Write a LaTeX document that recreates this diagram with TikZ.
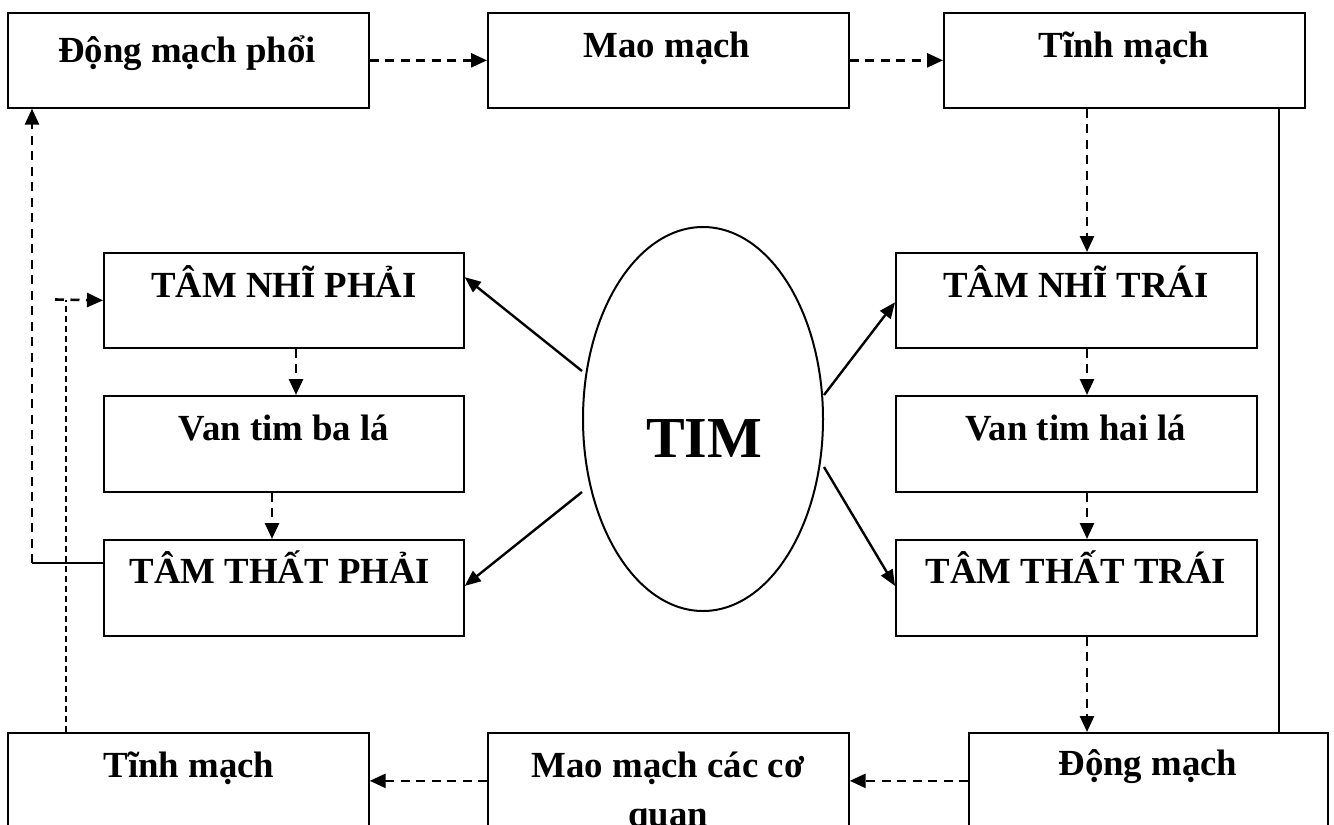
\documentclass[tikz,border=0pt]{standalone}
\usepackage{fontspec}
\setmainfont{Liberation Serif}
\usetikzlibrary{arrows.meta,shapes.geometric,calc}

\begin{document}
\begin{tikzpicture}[x=1pt,y=-1pt,
  box/.style={draw, line width=1.7pt, minimum width=361pt, minimum height=95pt,
              inner sep=0pt, anchor=north west},
  lbl/.style={font=\bfseries\fontsize{36.8}{42}\selectfont, anchor=base, inner sep=0pt},
  dasharrow/.style={line width=2.6pt, dash pattern=on 9pt off 6.5pt,
                    -{Triangle[length=16pt,width=14pt]}},
  solidarrow/.style={line width=2.4pt, -{Triangle[length=16pt,width=13pt]}},
  link/.style={line width=1.7pt},
  thinlink/.style={line width=1.5pt, dash pattern=on 6pt off 4pt},
]
\useasboundingbox (0,0) rectangle (1334,825);
\clip (0,0) rectangle (1334,825);
\fill[white] (0,0) rectangle (1334,825);

% top row
\node[box] (b1) at (7,12) {};
\node[box] (b2) at (487,12) {};
\node[box] (b3) at (943,12) {};
\node[lbl] (t1) at (187,62) {Động mạch phổi};
\node[lbl] (t2) at (667,57) {Mao mạch};
\node[lbl] (t3) at (1124,57) {Tĩnh mạch};

% left column (right heart)
\node[box, minimum width=360pt] (ln) at (103,252) {};
\node[box, minimum width=360pt, minimum height=96pt] (lv) at (103,395) {};
\node[box, minimum width=360pt, minimum height=96pt] (lt) at (103,539) {};
\node[lbl] (tln) at (284,297) {TÂM NHĨ PHẢI};
\node[lbl] (tlv) at (284,440) {Van tim ba lá};
\node[lbl] (tlt) at (280,583) {TÂM THẤT PHẢI};

% right column (left heart)
\node[box] (rn) at (895,252) {};
\node[box, minimum height=96pt] (rv) at (895,395) {};
\node[box, minimum height=96pt] (rt) at (895,539) {};
\node[lbl] (trn) at (1076,297) {TÂM NHĨ TRÁI};
\node[lbl] (trv) at (1076,440) {Van tim hai lá};
\node[lbl] (trt) at (1076,583) {TÂM THẤT TRÁI};

% heart
\node[draw, ellipse, line width=2pt, minimum width=240pt, minimum height=384pt,
      inner sep=0pt] (tim) at (703,419) {};
\node[font=\bfseries\fontsize{58}{64}\selectfont, anchor=base, inner sep=0pt]
      (ttim) at (704,457) {TIM};

% bottom row
\node[box, minimum height=96pt] (bt) at (7,732) {};
\node[box, minimum height=96pt] (mc) at (487,732) {};
\node[box, minimum width=359pt, minimum height=96pt] (dm) at (968,732) {};
\node[lbl] (tbt) at (189,777) {Tĩnh mạch};
\node[lbl] (tmc1) at (668,777) {Mao mạch các cơ};
\node[lbl] (tmc2) at (668,826) {quan};
\node[lbl] (tdm) at (1148,775) {Động mạch};

% guide coordinates for the vertical runs
\coordinate (rx) at (1087,0);
\coordinate (sx) at (1279,0);
\coordinate (lx) at (32,563);
\coordinate (tx) at (66,299.5);
\coordinate (hx) at (55,299.5);
\coordinate (ax1) at (296,0);
\coordinate (ax2) at (272,0);

% pulmonary loop
\draw[dasharrow] (b1.east) -- (b2.west);
\draw[dasharrow] (b2.east) -- (b3.west);
\draw[dasharrow] (b3.south -| rx) -- (rn.north -| rx);
\draw[link] (b3.south -| sx) -- (dm.north -| sx);

% left heart
\draw[dasharrow] (rn.south -| rx) -- (rv.north -| rx);
\draw[dasharrow] (rv.south -| rx) -- (rt.north -| rx);
\draw[dasharrow] (rt.south -| rx) -- (dm.north -| rx);

% systemic loop
\draw[dasharrow] (dm.west) -- (mc.east);
\draw[dasharrow] (mc.west) -- (bt.east);
\draw[thinlink] (bt.north -| tx) -- (tx);
\draw[dasharrow] (hx) -- (ln.west);

% right heart
\draw[dasharrow] (ln.south -| ax1) -- (lv.north -| ax1);
\draw[dasharrow] (lv.south -| ax2) -- (lt.north -| ax2);
\draw[link] (lt.west |- lx) -- (lx);
\draw[dasharrow] (lx) -- (b1.south -| lx);

% heart to chambers
\draw[solidarrow] ($(tim.west)+(0,-48)$) -- ($(ln.north east)!0.26!(ln.south east)$);
\draw[solidarrow] ($(tim.west)+(0,73)$) -- ($(lt.north east)!0.48!(lt.south east)$);
\draw[solidarrow] ($(tim.east)+(0,-24)$) -- ($(rn.north west)!0.52!(rn.south west)$);
\draw[solidarrow] ($(tim.east)+(0,48)$) -- ($(rt.north west)!0.48!(rt.south west)$);
\end{tikzpicture}
\end{document}
